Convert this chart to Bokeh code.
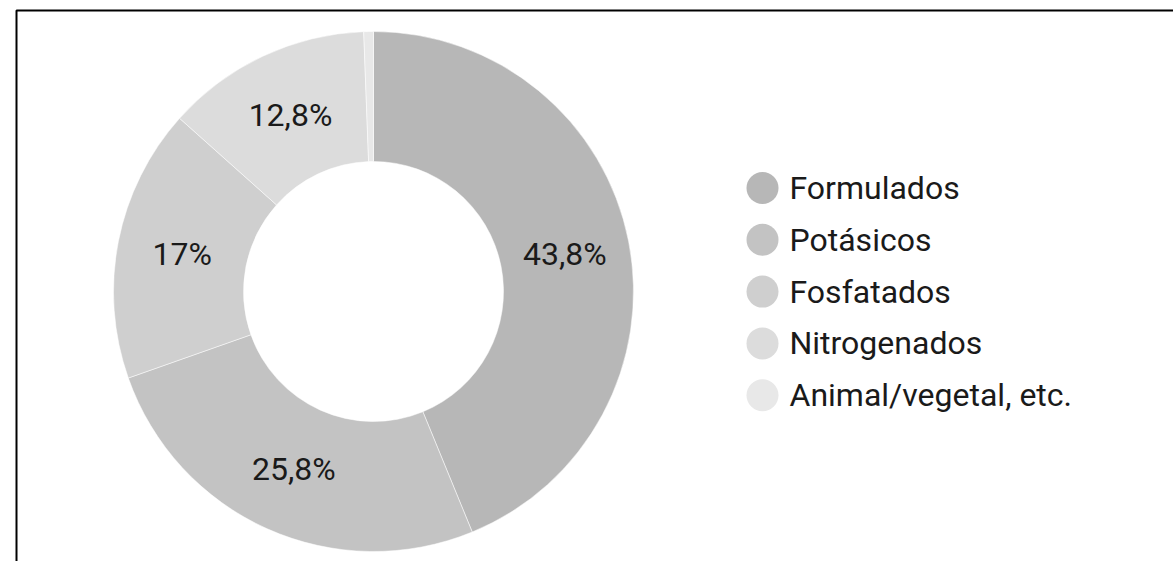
import math
from bokeh.plotting import figure
from bokeh.models import Range1d, ColumnDataSource
from bokeh.core.properties import value
from bokeh.embed import file_html
from bokeh.resources import INLINE

# ---- data ----
categories = ["Formulados", "Potásicos", "Fosfatados", "Nitrogenados", "Animal/vegetal, etc."]
shares = [43.8, 25.8, 17.0, 12.8, 0.6]
pct_labels = ["43,8%", "25,8%", "17%", "12,8%", ""]
colors = ["#b7b7b7", "#c3c3c3", "#cfcfcf", "#dcdcdc", "#e8e8e8"]

# ---- layout (pixels) ----
W, H = 1173, 561
CX, CY = 373, 291          # donut centre in page pixels
R_OUT, R_IN = 260, 130
FONT = value("Roboto")
FS = "32px"

p = figure(width=W, height=H, output_backend="svg", toolbar_location=None,
           x_range=Range1d(-CX, W - CX), y_range=Range1d(CY - H, CY),
           min_border=0, min_border_left=0, min_border_right=0,
           min_border_top=0, min_border_bottom=0)
p.axis.visible = False
p.grid.visible = False
p.outline_line_color = None
p.background_fill_color = "white"
p.border_fill_color = "white"

# wedges: clockwise from 12 o'clock
total = sum(shares)
starts, ends, lx, ly = [], [], [], []
acc = 0.0
for s in shares:
    a0 = acc / total * 2 * math.pi
    acc += s
    a1 = acc / total * 2 * math.pi
    starts.append(math.pi / 2 - a0)
    ends.append(math.pi / 2 - a1)
    mid = (a0 + a1) / 2
    rm = (R_OUT + R_IN) / 2
    lx.append(rm * math.sin(mid))
    ly.append(rm * math.cos(mid))

src = ColumnDataSource(dict(start=starts, end=ends, color=colors,
                            lx=lx, ly=ly, lab=pct_labels))
p.annular_wedge(x=0, y=0, inner_radius=R_IN, outer_radius=R_OUT,
                start_angle="start", end_angle="end", direction="clock",
                fill_color="color", line_color="white", line_width=1, line_alpha=0.5,
                source=src)
p.text(x="lx", y="ly", text="lab", source=src, text_font=FONT, text_font_size=FS,
       text_align="center", text_baseline="middle", text_color="#1a1a1a")

# legend drawn manually
leg_x0 = 762 - CX
leg_tx = 789 - CX
leg_y0 = CY - 187.5
leg_dy = 51.8
ly_leg = [leg_y0 - i * leg_dy for i in range(len(categories))]
leg_src = ColumnDataSource(dict(x=[leg_x0] * len(categories), tx=[leg_tx] * len(categories),
                                y=ly_leg, color=colors, name=categories))
p.scatter(x="x", y="y", size=32, marker="circle", fill_color="color",
          line_color=None, source=leg_src)
p.text(x="tx", y="y", text="name", source=leg_src, text_font=FONT, text_font_size=FS,
       text_align="left", text_baseline="middle", text_color="#1a1a1a")

# frame lines (top and left)
p.line(x=[16 - CX, 16 - CX, 1200 - CX], y=[CY - 600, CY - 10, CY - 10],
       line_color="black", line_width=2)

open("out.html", "w").write(file_html(p, INLINE))
